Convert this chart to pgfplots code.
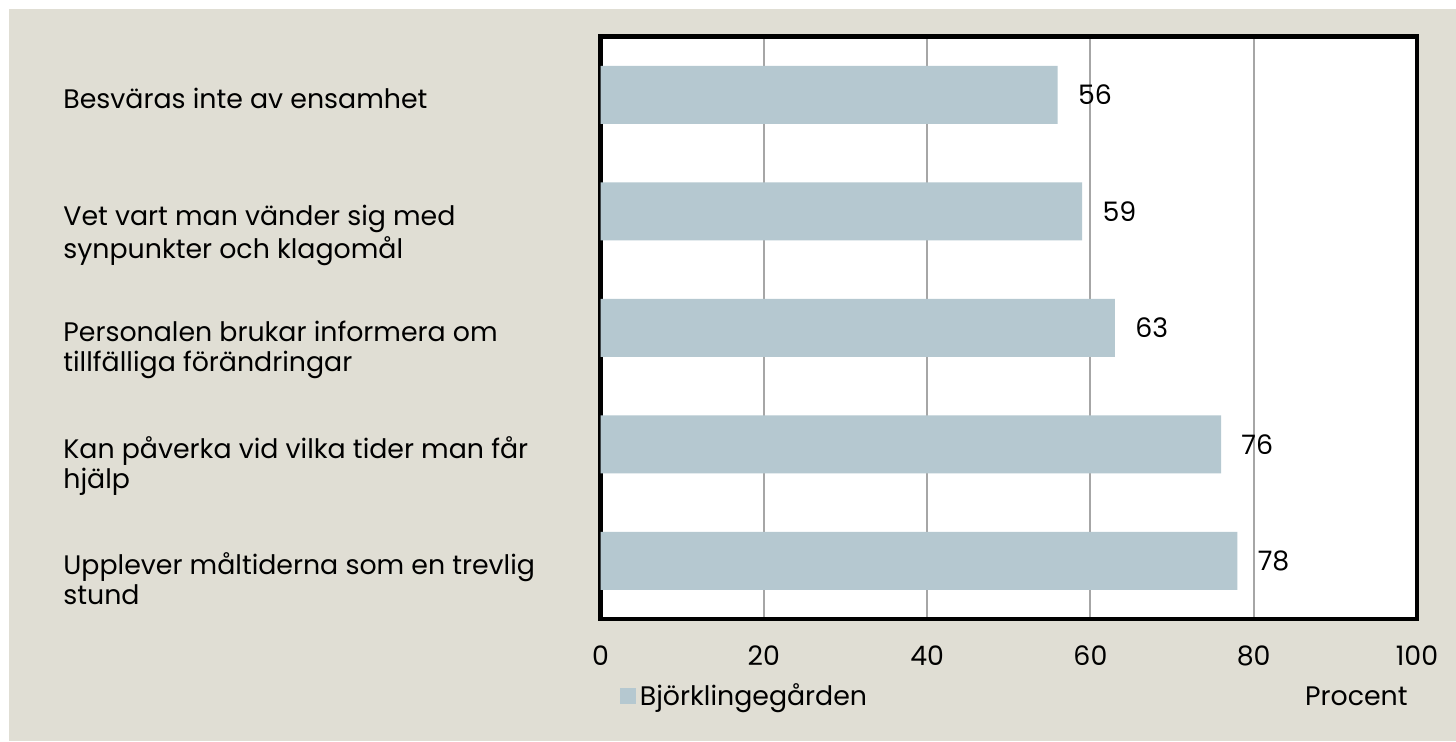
\documentclass[border=0pt]{standalone}
\usepackage{pgfplots}
\pgfplotsset{compat=1.18}
\usepackage{fontspec}
\setmainfont{Poppins}
\definecolor{bg}{RGB}{224,222,212}
\definecolor{barc}{RGB}{181,200,208}
\definecolor{gridc}{RGB}{166,166,166}
\newcommand{\cf}{\fontsize{13.4}{15}\selectfont}
\newcommand{\two}[2]{\vtop{\hbox{\strut#1}\hbox{\strut#2}}}
\begin{document}
\begin{tikzpicture}[x=1pt,y=1pt]
\fill[white] (0,0) rectangle (728,370.5);
\fill[bg] (4.5,0) rectangle (728,366);
\useasboundingbox (0,0) rectangle (728,370.5);
\begin{axis}[
 at={(300.25pt,61pt)}, anchor=south west,
 scale only axis, width=408.25pt, height=291.25pt,
 xbar, bar width=29pt,
 xmin=0, xmax=100, ymin=-0.5, ymax=4.5, y dir=reverse,
 axis background/.style={fill=white},
 axis line style={line width=2.25pt, black},
 xmajorgrids, grid style={gridc, line width=1pt},
 xtick={0,20,40,60,80,100}, ytick={0,1,2,3,4},
 major tick length=0pt,
 /pgf/number format/assume math mode=true,
 xticklabel style={font=\cf, anchor=base, yshift=-23pt, inner sep=0pt},
 yticklabels={{\two{Besväras inte av ensamhet}{}},{\two{Vet vart man vänder sig med}{synpunkter och klagomål}},{\two{Personalen brukar informera om}{tillfälliga förändringar}},{\two{Kan påverka vid vilka tider man får}{hjälp}},{\two{Upplever måltiderna som en trevlig}{stund}}},
 yticklabel style={font=\cf, anchor=base west, inner sep=0pt, xshift=-268.75pt, yshift=-7pt},
 xlabel={Procent},
 xlabel style={at={(axis description cs:1,0)}, anchor=base east, xshift=-4.5pt, yshift=-43pt, inner sep=0pt, font=\cf},
 nodes near coords, point meta=x,
 nodes near coords style={font=\cf, anchor=west, inner sep=0pt, xshift=10pt, black},
 legend image code/.code={\fill[barc] (0pt,-4pt) rectangle (8pt,4pt);},
 legend style={draw=none, fill=none, at={(0.0239,-0.133)}, anchor=west, inner sep=0pt, font=\cf, nodes={inner sep=1.75pt}},
]
\addplot[fill=barc, draw=none] coordinates {(56,0) (59,1) (63,2) (76,3) (78,4)};
\addlegendentry{Björklingegården}
\end{axis}
\end{tikzpicture}
\end{document}
